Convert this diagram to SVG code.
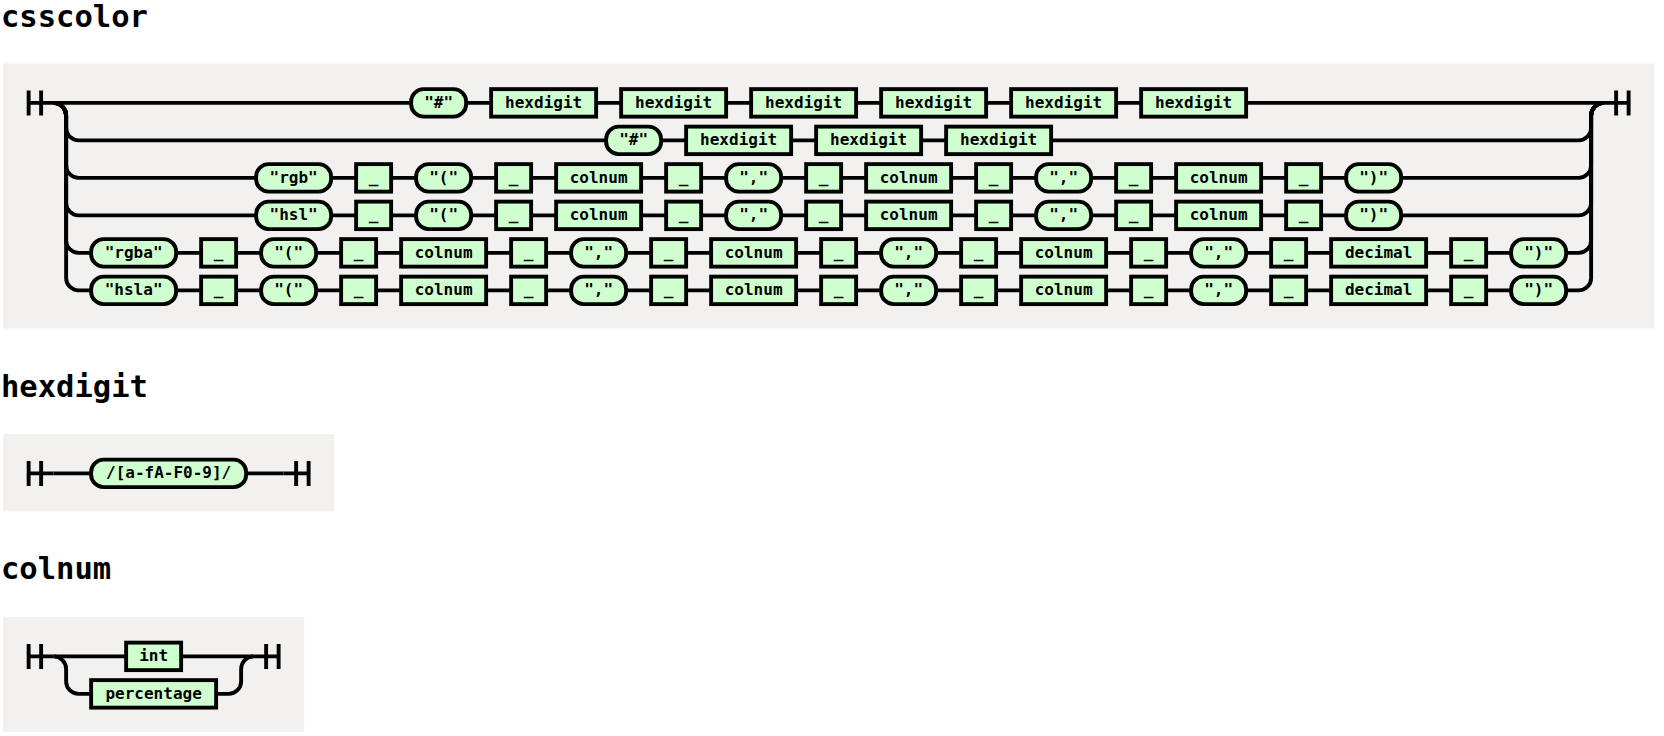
<svg xmlns="http://www.w3.org/2000/svg" width="1664" height="736" viewBox="0 0 1664 736">
<style>
.page{fill:#ffffff}
.panel{fill:#f2f1ef}
.title{font-family:"DejaVu Sans Mono","Liberation Mono",monospace;font-weight:bold;font-size:30.5px;fill:#000}
.rr path{stroke:#000;stroke-width:3.1;fill:none}
.rr rect{stroke:#000;stroke-width:3.1;fill:#cfffcf}
.rr text{font-family:"DejaVu Sans Mono","Liberation Mono",monospace;font-weight:bold;font-size:12.8px;text-anchor:middle;fill:#000}
</style>
<rect class="page" x="0" y="0" width="1664" height="736"/>

<text class="title" x="1" y="26.5">csscolor</text>
<rect class="panel" x="3" y="63.5" width="1651.25" height="265"/>
<g id="csscolor" class="rr" transform="translate(3.625 64.125) scale(1.25)">
  <g id="csscolor-connectors">
    <path d="M20 21 v20 m10 -20 v20 m-10 -10 h20"/>
    <path d="M40 31 H1280"/>
    <path d="M40 31 a10 10 0 0 1 10 10 V51 a10 10 0 0 0 10 10 H1260 a10 10 0 0 0 10 -10 V41 a10 10 0 0 1 10 -10"/>
    <path d="M40 31 a10 10 0 0 1 10 10 V81 a10 10 0 0 0 10 10 H1260 a10 10 0 0 0 10 -10 V41 a10 10 0 0 1 10 -10"/>
    <path d="M40 31 a10 10 0 0 1 10 10 V111 a10 10 0 0 0 10 10 H1260 a10 10 0 0 0 10 -10 V41 a10 10 0 0 1 10 -10"/>
    <path d="M40 31 a10 10 0 0 1 10 10 V141 a10 10 0 0 0 10 10 H1260 a10 10 0 0 0 10 -10 V41 a10 10 0 0 1 10 -10"/>
    <path d="M40 31 a10 10 0 0 1 10 10 V171 a10 10 0 0 0 10 10 H1260 a10 10 0 0 0 10 -10 V41 a10 10 0 0 1 10 -10"/>
    <path d="M1280 31 h20 m-10 -10 v20 m10 -20 v20"/>
  </g>
  <g id="r1-hash"><rect x="326" y="20" width="44" height="22" rx="10" ry="10"/><text x="348" y="35">"#"</text></g>
  <g id="r1-hex1"><rect x="390" y="20" width="84" height="22"/><text x="432" y="35">hexdigit</text></g>
  <g id="r1-hex2"><rect x="494" y="20" width="84" height="22"/><text x="536" y="35">hexdigit</text></g>
  <g id="r1-hex3"><rect x="598" y="20" width="84" height="22"/><text x="640" y="35">hexdigit</text></g>
  <g id="r1-hex4"><rect x="702" y="20" width="84" height="22"/><text x="744" y="35">hexdigit</text></g>
  <g id="r1-hex5"><rect x="806" y="20" width="84" height="22"/><text x="848" y="35">hexdigit</text></g>
  <g id="r1-hex6"><rect x="910" y="20" width="84" height="22"/><text x="952" y="35">hexdigit</text></g>

  <g id="r2-hash"><rect x="482" y="50" width="44" height="22" rx="10" ry="10"/><text x="504" y="65">"#"</text></g>
  <g id="r2-hex1"><rect x="546" y="50" width="84" height="22"/><text x="588" y="65">hexdigit</text></g>
  <g id="r2-hex2"><rect x="650" y="50" width="84" height="22"/><text x="692" y="65">hexdigit</text></g>
  <g id="r2-hex3"><rect x="754" y="50" width="84" height="22"/><text x="796" y="65">hexdigit</text></g>

  <g id="r3-rgb"><rect x="202" y="80" width="60" height="22" rx="10" ry="10"/><text x="232" y="95">"rgb"</text></g>
  <g id="r3-ws1"><rect x="282" y="80" width="28" height="22"/><text x="296" y="95">_</text></g>
  <g id="r3-lp"><rect x="330" y="80" width="44" height="22" rx="10" ry="10"/><text x="352" y="95">"("</text></g>
  <g id="r3-ws2"><rect x="394" y="80" width="28" height="22"/><text x="408" y="95">_</text></g>
  <g id="r3-col1"><rect x="442" y="80" width="68" height="22"/><text x="476" y="95">colnum</text></g>
  <g id="r3-ws3"><rect x="530" y="80" width="28" height="22"/><text x="544" y="95">_</text></g>
  <g id="r3-c1"><rect x="578" y="80" width="44" height="22" rx="10" ry="10"/><text x="600" y="95">","</text></g>
  <g id="r3-ws4"><rect x="642" y="80" width="28" height="22"/><text x="656" y="95">_</text></g>
  <g id="r3-col2"><rect x="690" y="80" width="68" height="22"/><text x="724" y="95">colnum</text></g>
  <g id="r3-ws5"><rect x="778" y="80" width="28" height="22"/><text x="792" y="95">_</text></g>
  <g id="r3-c2"><rect x="826" y="80" width="44" height="22" rx="10" ry="10"/><text x="848" y="95">","</text></g>
  <g id="r3-ws6"><rect x="890" y="80" width="28" height="22"/><text x="904" y="95">_</text></g>
  <g id="r3-col3"><rect x="938" y="80" width="68" height="22"/><text x="972" y="95">colnum</text></g>
  <g id="r3-ws7"><rect x="1026" y="80" width="28" height="22"/><text x="1040" y="95">_</text></g>
  <g id="r3-rp"><rect x="1074" y="80" width="44" height="22" rx="10" ry="10"/><text x="1096" y="95">")"</text></g>

  <g id="r4-hsl"><rect x="202" y="110" width="60" height="22" rx="10" ry="10"/><text x="232" y="125">"hsl"</text></g>
  <g id="r4-ws1"><rect x="282" y="110" width="28" height="22"/><text x="296" y="125">_</text></g>
  <g id="r4-lp"><rect x="330" y="110" width="44" height="22" rx="10" ry="10"/><text x="352" y="125">"("</text></g>
  <g id="r4-ws2"><rect x="394" y="110" width="28" height="22"/><text x="408" y="125">_</text></g>
  <g id="r4-col1"><rect x="442" y="110" width="68" height="22"/><text x="476" y="125">colnum</text></g>
  <g id="r4-ws3"><rect x="530" y="110" width="28" height="22"/><text x="544" y="125">_</text></g>
  <g id="r4-c1"><rect x="578" y="110" width="44" height="22" rx="10" ry="10"/><text x="600" y="125">","</text></g>
  <g id="r4-ws4"><rect x="642" y="110" width="28" height="22"/><text x="656" y="125">_</text></g>
  <g id="r4-col2"><rect x="690" y="110" width="68" height="22"/><text x="724" y="125">colnum</text></g>
  <g id="r4-ws5"><rect x="778" y="110" width="28" height="22"/><text x="792" y="125">_</text></g>
  <g id="r4-c2"><rect x="826" y="110" width="44" height="22" rx="10" ry="10"/><text x="848" y="125">","</text></g>
  <g id="r4-ws6"><rect x="890" y="110" width="28" height="22"/><text x="904" y="125">_</text></g>
  <g id="r4-col3"><rect x="938" y="110" width="68" height="22"/><text x="972" y="125">colnum</text></g>
  <g id="r4-ws7"><rect x="1026" y="110" width="28" height="22"/><text x="1040" y="125">_</text></g>
  <g id="r4-rp"><rect x="1074" y="110" width="44" height="22" rx="10" ry="10"/><text x="1096" y="125">")"</text></g>

  <g id="r5-rgba"><rect x="70" y="140" width="68" height="22" rx="10" ry="10"/><text x="104" y="155">"rgba"</text></g>
  <g id="r5-ws1"><rect x="158" y="140" width="28" height="22"/><text x="172" y="155">_</text></g>
  <g id="r5-lp"><rect x="206" y="140" width="44" height="22" rx="10" ry="10"/><text x="228" y="155">"("</text></g>
  <g id="r5-ws2"><rect x="270" y="140" width="28" height="22"/><text x="284" y="155">_</text></g>
  <g id="r5-col1"><rect x="318" y="140" width="68" height="22"/><text x="352" y="155">colnum</text></g>
  <g id="r5-ws3"><rect x="406" y="140" width="28" height="22"/><text x="420" y="155">_</text></g>
  <g id="r5-c1"><rect x="454" y="140" width="44" height="22" rx="10" ry="10"/><text x="476" y="155">","</text></g>
  <g id="r5-ws4"><rect x="518" y="140" width="28" height="22"/><text x="532" y="155">_</text></g>
  <g id="r5-col2"><rect x="566" y="140" width="68" height="22"/><text x="600" y="155">colnum</text></g>
  <g id="r5-ws5"><rect x="654" y="140" width="28" height="22"/><text x="668" y="155">_</text></g>
  <g id="r5-c2"><rect x="702" y="140" width="44" height="22" rx="10" ry="10"/><text x="724" y="155">","</text></g>
  <g id="r5-ws6"><rect x="766" y="140" width="28" height="22"/><text x="780" y="155">_</text></g>
  <g id="r5-col3"><rect x="814" y="140" width="68" height="22"/><text x="848" y="155">colnum</text></g>
  <g id="r5-ws7"><rect x="902" y="140" width="28" height="22"/><text x="916" y="155">_</text></g>
  <g id="r5-c3"><rect x="950" y="140" width="44" height="22" rx="10" ry="10"/><text x="972" y="155">","</text></g>
  <g id="r5-ws8"><rect x="1014" y="140" width="28" height="22"/><text x="1028" y="155">_</text></g>
  <g id="r5-dec"><rect x="1062" y="140" width="76" height="22"/><text x="1100" y="155">decimal</text></g>
  <g id="r5-ws9"><rect x="1158" y="140" width="28" height="22"/><text x="1172" y="155">_</text></g>
  <g id="r5-rp"><rect x="1206" y="140" width="44" height="22" rx="10" ry="10"/><text x="1228" y="155">")"</text></g>

  <g id="r6-hsla"><rect x="70" y="170" width="68" height="22" rx="10" ry="10"/><text x="104" y="185">"hsla"</text></g>
  <g id="r6-ws1"><rect x="158" y="170" width="28" height="22"/><text x="172" y="185">_</text></g>
  <g id="r6-lp"><rect x="206" y="170" width="44" height="22" rx="10" ry="10"/><text x="228" y="185">"("</text></g>
  <g id="r6-ws2"><rect x="270" y="170" width="28" height="22"/><text x="284" y="185">_</text></g>
  <g id="r6-col1"><rect x="318" y="170" width="68" height="22"/><text x="352" y="185">colnum</text></g>
  <g id="r6-ws3"><rect x="406" y="170" width="28" height="22"/><text x="420" y="185">_</text></g>
  <g id="r6-c1"><rect x="454" y="170" width="44" height="22" rx="10" ry="10"/><text x="476" y="185">","</text></g>
  <g id="r6-ws4"><rect x="518" y="170" width="28" height="22"/><text x="532" y="185">_</text></g>
  <g id="r6-col2"><rect x="566" y="170" width="68" height="22"/><text x="600" y="185">colnum</text></g>
  <g id="r6-ws5"><rect x="654" y="170" width="28" height="22"/><text x="668" y="185">_</text></g>
  <g id="r6-c2"><rect x="702" y="170" width="44" height="22" rx="10" ry="10"/><text x="724" y="185">","</text></g>
  <g id="r6-ws6"><rect x="766" y="170" width="28" height="22"/><text x="780" y="185">_</text></g>
  <g id="r6-col3"><rect x="814" y="170" width="68" height="22"/><text x="848" y="185">colnum</text></g>
  <g id="r6-ws7"><rect x="902" y="170" width="28" height="22"/><text x="916" y="185">_</text></g>
  <g id="r6-c3"><rect x="950" y="170" width="44" height="22" rx="10" ry="10"/><text x="972" y="185">","</text></g>
  <g id="r6-ws8"><rect x="1014" y="170" width="28" height="22"/><text x="1028" y="185">_</text></g>
  <g id="r6-dec"><rect x="1062" y="170" width="76" height="22"/><text x="1100" y="185">decimal</text></g>
  <g id="r6-ws9"><rect x="1158" y="170" width="28" height="22"/><text x="1172" y="185">_</text></g>
  <g id="r6-rp"><rect x="1206" y="170" width="44" height="22" rx="10" ry="10"/><text x="1228" y="185">")"</text></g>
</g>

<text class="title" x="1" y="397">hexdigit</text>
<rect class="panel" x="3" y="434" width="331.25" height="77.5"/>
<g id="hexdigit" class="rr" transform="translate(3.625 434.625) scale(1.25)">
  <g id="hexdigit-connectors">
    <path d="M20 21 v20 m10 -20 v20 m-10 -10 h20"/>
    <path d="M40 31 H224"/>
    <path d="M224 31 h20 m-10 -10 v20 m10 -20 v20"/>
  </g>
  <g id="hx-regex"><rect x="70" y="20" width="124" height="22" rx="10" ry="10"/><text x="132" y="35">/[a-fA-F0-9]/</text></g>
</g>

<text class="title" x="1" y="579">colnum</text>
<rect class="panel" x="3" y="617" width="301.25" height="115"/>
<g id="colnum" class="rr" transform="translate(3.625 617.625) scale(1.25)">
  <g id="colnum-connectors">
    <path d="M20 21 v20 m10 -20 v20 m-10 -10 h20"/>
    <path d="M40 31 H200"/>
    <path d="M40 31 a10 10 0 0 1 10 10 V51 a10 10 0 0 0 10 10 H180 a10 10 0 0 0 10 -10 V41 a10 10 0 0 1 10 -10"/>
    <path d="M200 31 h20 m-10 -10 v20 m10 -20 v20"/>
  </g>
  <g id="cn-int"><rect x="98" y="20" width="44" height="22"/><text x="120" y="35">int</text></g>
  <g id="cn-percentage"><rect x="70" y="50" width="100" height="22"/><text x="120" y="65">percentage</text></g>
</g>
</svg>
